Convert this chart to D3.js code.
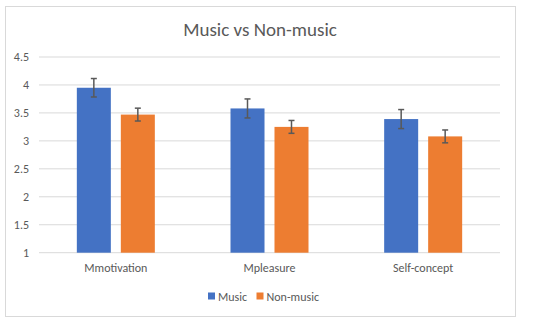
<!DOCTYPE html>
<html>
<head>
<meta charset="utf-8">
<script src="https://cdn.jsdelivr.net/npm/d3@7"></script>
<style>
  body { margin: 0; background: #fff; }
  text { font-family: Carlito, Calibri, Lato, "Open Sans", sans-serif; }
</style>
</head>
<body>
<div id="chart"></div>
<script>
// Chart data
const categories = ["Mmotivation", "Mpleasure", "Self-concept"];
const seriesNames = ["Music", "Non-music"];
const musicValues = [3.95, 3.58, 3.39];
const nonMusicValues = [3.47, 3.25, 3.08];
const musicErr = [0.165, 0.17, 0.17];
const nonMusicErr = [0.115, 0.115, 0.115];
const yTicks = [1, 1.5, 2, 2.5, 3, 3.5, 4, 4.5];

const colors = { "Music": "#4472C4", "Non-music": "#ED7D31" };

const W = 550, H = 324;
const plot = { left: 39, right: 500, top: 57, bottom: 252.7 };

const svg = d3.select("#chart")
    .append("svg")
    .attr("width", W)
    .attr("height", H);

// Chart frame
svg.append("rect")
    .attr("x", 5.5)
    .attr("y", 6.5)
    .attr("width", 510)
    .attr("height", 310)
    .attr("fill", "#fff")
    .attr("stroke", "#d9d9d9")
    .attr("stroke-width", 1);

// Title
svg.append("text")
    .attr("x", 260)
    .attr("y", 36)
    .attr("text-anchor", "middle")
    .attr("fill", "#595959")
    .attr("font-size", 19)
    .text("Music vs Non-music");

// Scales
const x0 = d3.scaleBand()
    .domain(categories)
    .range([plot.left, plot.right]);

const groupWidth = 78;
const x1 = d3.scaleBand()
    .domain(seriesNames)
    .range([0, groupWidth])
    .paddingInner(0.227);

const y = d3.scaleLinear()
    .domain([1, 4.5])
    .range([plot.bottom, plot.top]);

// Gridlines
svg.append("g")
    .selectAll("line")
    .data(yTicks)
    .enter()
    .append("line")
    .attr("x1", plot.left)
    .attr("x2", plot.right)
    .attr("y1", d => y(d))
    .attr("y2", d => y(d))
    .attr("stroke", "#d9d9d9")
    .attr("stroke-width", 1);

// Y axis labels
const yAxis = svg.append("g")
    .attr("transform", `translate(${plot.left},0)`)
    .call(d3.axisLeft(y).tickValues(yTicks).tickSize(0).tickPadding(10).tickFormat(d3.format("")));
yAxis.select(".domain").remove();
yAxis.selectAll("text")
    .attr("fill", "#595959")
    .attr("font-size", 12)
    .style("font-family", "Carlito, Calibri, Lato, 'Open Sans', sans-serif");

// X axis labels
const xAxis = svg.append("g")
    .attr("transform", `translate(0,${plot.bottom})`)
    .call(d3.axisBottom(x0).tickSize(0).tickPadding(11));
xAxis.select(".domain").remove();
xAxis.selectAll("text")
    .attr("fill", "#595959")
    .attr("font-size", 12)
    .style("font-family", "Carlito, Calibri, Lato, 'Open Sans', sans-serif");

// Build rows
const rows = [];
categories.forEach((c, i) => {
    rows.push({ cat: c, series: "Music", value: musicValues[i], err: musicErr[i] });
    rows.push({ cat: c, series: "Non-music", value: nonMusicValues[i], err: nonMusicErr[i] });
});

const offset = (x0.bandwidth() - groupWidth) / 2;
const barX = d => x0(d.cat) + offset + x1(d.series);

// Bars
svg.selectAll(".bar")
    .data(rows)
    .enter()
    .append("rect")
    .attr("class", "bar")
    .attr("x", d => barX(d))
    .attr("y", d => y(d.value))
    .attr("width", x1.bandwidth())
    .attr("height", d => y(1) - y(d.value))
    .attr("fill", d => colors[d.series]);

// Error bars
const errG = svg.selectAll(".err")
    .data(rows)
    .enter()
    .append("g")
    .attr("class", "err")
    .attr("stroke", "#595959")
    .attr("stroke-width", 1.5);

const cx = d => barX(d) + x1.bandwidth() / 2;
errG.append("line")
    .attr("x1", cx).attr("x2", cx)
    .attr("y1", d => y(d.value + d.err))
    .attr("y2", d => y(d.value - d.err));
errG.append("line")
    .attr("x1", d => cx(d) - 3).attr("x2", d => cx(d) + 3)
    .attr("y1", d => y(d.value + d.err))
    .attr("y2", d => y(d.value + d.err));
errG.append("line")
    .attr("x1", d => cx(d) - 3).attr("x2", d => cx(d) + 3)
    .attr("y1", d => y(d.value - d.err))
    .attr("y2", d => y(d.value - d.err));

// Legend
const legendItems = [
    { name: "Music", x: 208 },
    { name: "Non-music", x: 256.5 }
];
const legend = svg.append("g");
legend.selectAll("rect")
    .data(legendItems)
    .enter()
    .append("rect")
    .attr("x", d => d.x)
    .attr("y", 292.5)
    .attr("width", 7)
    .attr("height", 7)
    .attr("fill", d => colors[d.name]);
legend.selectAll("text")
    .data(legendItems)
    .enter()
    .append("text")
    .attr("x", d => d.x + 10)
    .attr("y", 300.5)
    .attr("fill", "#595959")
    .attr("font-size", 12)
    .text(d => d.name);
</script>
</body>
</html>
